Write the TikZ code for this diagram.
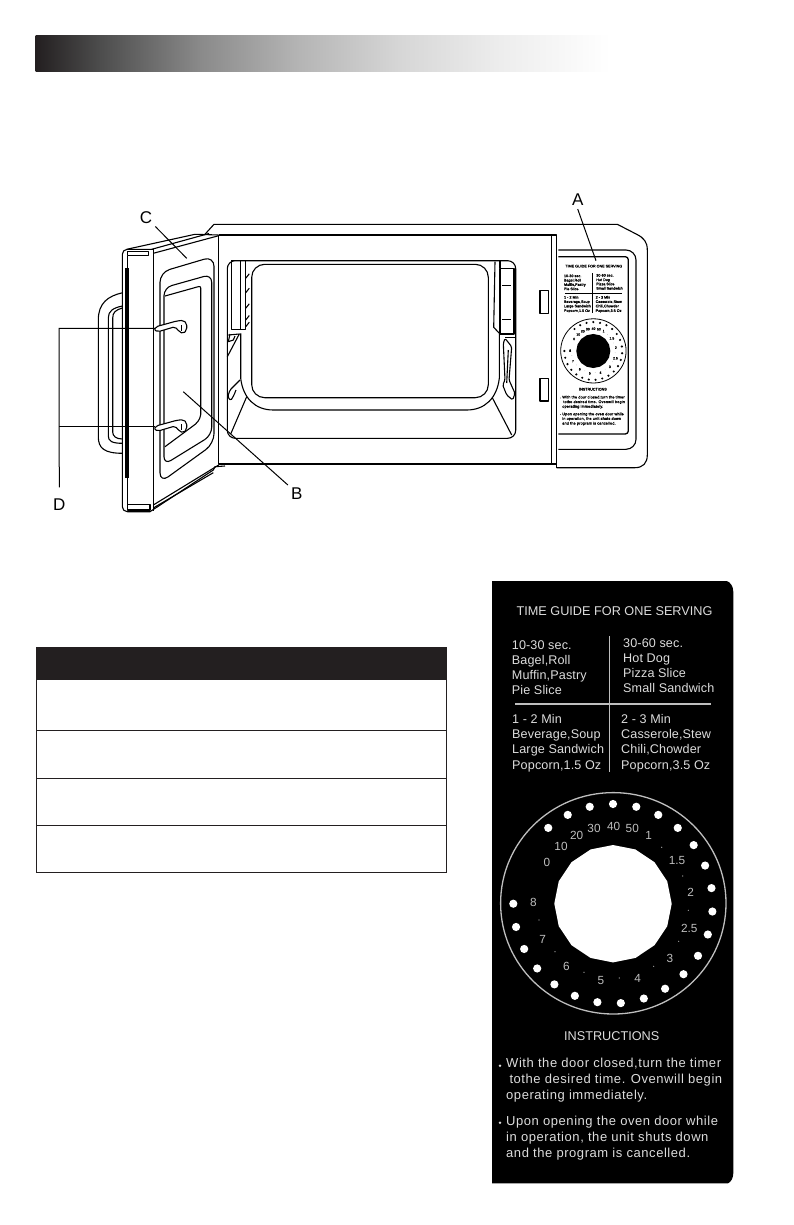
\documentclass[tikz,border=0pt]{standalone}
\usepackage{fontspec}
\setmainfont{Liberation Sans}
\newfontfamily\panelfont[LetterSpace=1]{Liberation Sans}
\newfontfamily\notefont[LetterSpace=4.3]{Liberation Sans}
\usetikzlibrary{positioning,calc}
\definecolor{ink}{HTML}{231F20}
\definecolor{paneltext}{HTML}{DCDCDC}
\definecolor{dialtext}{HTML}{BEBEBE}
\pgfdeclarehorizontalshading{barfade}{100bp}{color(0bp)=(ink); color(25bp)=(ink);
	color(30.6bp)=(black!70); color(39.3bp)=(black!46); color(48bp)=(black!29);
	color(56.7bp)=(black!16); color(65.5bp)=(black!7); color(75bp)=(white); color(100bp)=(white)}
\tikzstyle{part}=[draw, line width=1.1pt, line join=round]
\tikzstyle{leader}=[draw, line width=1pt]
\tikzstyle{callout}=[inner sep=3pt, font=\fontsize{17}{19}\selectfont]
\tikzstyle{guide}=[anchor=base west, inner sep=0pt, font=\panelfont\panelweight\fontsize{12.6}{14}\selectfont]
\tikzstyle{note}=[anchor=base west, inner sep=0pt, font=\notefont\panelweight\fontsize{13}{15}\selectfont]
\tikzstyle{heading}=[anchor=base, inner sep=0pt, font=\panelweight\fontsize{12.7}{14}\selectfont]
\tikzstyle{dialnum}=[inner sep=0pt, font=\panelweight\fontsize{11.8}{13}\selectfont]
\newcommand{\panelweight}{}
% #1 text, #2 dial numbers and rules, #3 solid marks, #4 rule width
\newcommand{\timerPanel}[4]{%
	\path (614.5,615.5) node (title) [heading, text=#1] {TIME GUIDE FOR ONE SERVING};
	\foreach \tx/\ty/\tline [count=\n] in {
		511.7/649/{10-30 sec.}, 511.7/664/{Bagel,Roll}, 511.7/679/{Muffin,Pastry}, 511.7/694/{Pie Slice},
		623/647/{30-60 sec.}, 623/662.5/{Hot Dog}, 623/677/{Pizza Slice}, 623/692/{Small Sandwich},
		512/723/{1 - 2 Min}, 512/738/{Beverage,Soup}, 512/753/{Large Sandwich}, 512/769/{Popcorn,1.5 Oz},
		621/723/{2 - 3 Min}, 621/738/{Casserole,Stew}, 621/753/{Chili,Chowder}, 621/769/{Popcorn,3.5 Oz}}
		\path (\tx,\ty) node (g\n) [guide, text=#1] {\tline};
	\path[draw=#2, line width=#4] (609.3,636) -- (609.3,772);
	\path[draw=#2, line width=#4] (515,704) -- (711,704);
	% Dial
	\path[draw=#2, line width=#4] (613.3,903.3) ellipse (112.7 and 110.7);
	\path[fill=#3] (613,903.7) ++(90:58.7)
		\foreach \k in {1,...,15} { -- ($(613,903.7)+({90+22.5*\k}:58.7)$) } -- cycle;
	\foreach \k in {-3,...,20}
		\path[fill=#3] (613,903.7) ++({13.5*\k-90}:99.7) circle (4.1);
	\foreach \nx/\ny/\num [count=\n] in {
		613.7/826.7/40, 632.3/828.7/50, 648.7/835/1, 677/860/1.5, 690.7/892/2, 689.3/928.7/2.5,
		670/958.3/3, 637.7/978.3/4, 601/980.7/5, 566.3/966.7/6, 542.7/939/7, 533.3/902.7/8,
		547/862.3/0, 561/846.7/10, 576.7/835.7/20, 594/828.3/30}
		\path (\nx,\ny) node (n\n) [dialnum, text=#2] {\num};
	\foreach \dx/\dy in {661.7/847.3, 682.7/876, 688.3/910.3, 678.7/941.3, 653.7/966.3,
		619.3/978, 584/972.3, 555/951.7, 539/920}
		\path[fill=#2] (\dx,\dy) circle (0.6);
	% Instructions
	\path (611.7,1040) node (how) [heading, text=#1] {INSTRUCTIONS};
	\foreach \tx/\ty/\tline [count=\n] in {
		506/1067.3/{With the door closed,turn the timer}, 509.3/1083.3/{tothe desired time. Ovenwill begin},
		506/1099.3/{operating immediately.}, 506/1125.3/{Upon opening the oven door while},
		506/1141.3/{in operation, the unit shuts down}, 506/1157.3/{and the program is cancelled.}}
		\path (\tx,\ty) node (t\n) [note, text=#1] {\tline};
	\path[fill=#1] (500,1065.7) circle (1.3) (500,1122.7) circle (1.3);
}

\begin{document}
\begin{tikzpicture}[x=1pt,y=-1pt]
	\useasboundingbox (0,0) rectangle (793,1225);

	% Title bar and table
	\path[shading=barfade] (35.5,36) rectangle (610,72);
	\path[fill=ink] (36,647) rectangle (447,679);
	\path[draw=ink, line width=1pt] (36.5,679) rectangle (446.5,872.3);
	\foreach \rowy in {730.3,778.3,825.3}
		\path[draw=ink, line width=1pt] (36.5,\rowy) -- (446.5,\rowy);

	% Oven body
	\path[part] (204.3,235) -- (214,224.3) -- (617.3,224.3) -- (636.7,234.3)
		.. controls (644,238) and (647.3,242) .. (647.3,250) -- (647.3,455)
		.. controls (647.3,463) and (643,467.7) .. (635,467.7) -- (556.7,467.7);
	\path[part] (218.7,235) -- (556.7,235) -- (556.7,467.7);
	\path[part] (218.7,235) -- (218.7,464) -- (556.7,464);
	\path[part] (551.7,236) -- (551.7,465);
	\path[part, rounded corners=10pt] (558.3,250) -- (636,250) -- (636,449.3) -- (558.3,449.3);
	\path[part, line width=1.3pt, rounded corners=3pt] (558.3,256.7) -- (628.3,256.7) -- (628.3,434) -- (558.3,434);
	\path[part] (540,290.7) rectangle (548.7,313.3);
	\path[part] (540,378.3) rectangle (548.7,401);

	% Cavity
	\path[part, rounded corners=8pt] (227.3,260.7) rectangle (515.7,438.3);
	\path[part, rounded corners=13pt] (251.7,264.3) rectangle (488.3,397.7);
	\path[part] (240.7,333.3) -- (240.7,378.3) .. controls (243,398) and (255,410) .. (273.3,410)
		-- (466.7,410) .. controls (485,410) and (497,398) .. (499.3,378.3) -- (499.3,333.3);
	\path[part] (246.7,396.7) -- (230.7,434);
	\path[part] (492.3,397.7) -- (511.7,435);

	% Left rail
	\path[part] (231.7,260.7) rectangle (245.7,329.3);
	\path[part] (240.7,260.7) -- (240.7,329.3);
	\foreach \ty in {278.3,292.7,308.3,320,326.7}
		\path[part] (245.7,\ty) -- (249.3,\ty-4.5);
	\path[part] (228.3,335) -- (239.3,334) -- (227.3,356.7);
	\path[part] (230,334) -- (228.3,341.7) -- (233.3,340) -- (235,336);
	\path[part, rounded corners=1.5pt] (240,380) -- (230,390) -- (227.7,396.7) -- (230.7,400.7) -- (234,395) -- (236,390);

	% Right rail
	\path[part] (500,268.3) rectangle (514,334);
	\path[part] (500,260.7) -- (500,268.3);
	\path[part] (502,285.3) -- (511,285.3);
	\path[part] (502,319.3) -- (511,319.3);
	\path[part] (495,261.7) -- (493.7,327.3) -- (500,334);
	\path[part] (505,337.3) -- (515.7,337.3);
	\path[part, rounded corners=1.5pt] (505,338.3) -- (511.7,346.7) -- (509,380) -- (515,393.3) -- (512.7,400)
		-- (506.7,395) -- (502.7,385) -- (505,380) -- (503.3,343.3) -- cycle;
	\path[part] (508.3,350) -- (506.7,383);

	% Door handle
	\path[part] (122.7,292.7) .. controls (108,296) and (98.3,303) .. (98.3,320) -- (98.3,436.7)
		.. controls (98.3,448) and (104,453.3) .. (122.7,453.3);
	\path[part] (122.3,306) .. controls (113,308) and (108.3,311) .. (108.3,318) -- (108.3,436)
		.. controls (108.3,441) and (112,443.3) .. (122.3,443.3);
	\path[part] (122.3,308) .. controls (116,310) and (112.7,312) .. (112.7,318) -- (112.7,432)
		.. controls (112.7,436) and (116,439) .. (122.3,439);

	% Door
	\path[part, rounded corners=5pt] (153.3,249.3) -- (122.3,249.3) -- (122.3,511.7) -- (150,511.7);
	\path[part] (126.7,249.3) -- (195,234.3) -- (218.7,235);
	\path[part] (151.7,249.3) -- (209,233.5);
	\path[part] (153.3,253.3) -- (218.7,235.7);
	\path[part] (153.3,249.3) -- (153.3,511);
	\path[part] (127.3,255.7) -- (127.3,504.3);
	\path[part] (127.3,251.7) rectangle (148.3,255.7);
	\path[part] (127.3,504.3) rectangle (150,510);
	\path[draw, line width=3.5pt] (127,268.3) -- (127,478.3);
	\path[part] (150,511.7) -- (213.3,470) -- (215,466.7) -- (225,466);
	\path[part] (153.3,505) -- (218.7,465);
	\path[part] (153.3,508) -- (213.3,472.7);

	% Door gaskets
	\path[part, rounded corners=10pt] (160,272.3) -- (214,256.3) -- (214,443.7) -- (160,482.7) -- cycle;
	\path[part, rounded corners=8pt] (164,287.7) -- (211.7,274.3) -- (211.7,435.3) -- (164,464.7) -- cycle;
	\path[part, rounded corners=2pt] (165,296) -- (200.7,286) -- (200.7,416.7) -- (197,423) -- (165,446.7);

	% Door hooks
	\foreach \hy in {0,99.3} {
		\path[part, fill=white, rounded corners=2pt] (156,326.7+\hy) -- (176.7,321+\hy) -- (183.3,320.3+\hy)
			-- (186.7,323.3+\hy) -- (186.7,330+\hy) -- (183.3,333.7+\hy) -- (179.3,331.7+\hy)
			-- (175,326.7+\hy) -- (158.3,331.7+\hy) -- (154,330+\hy) -- cycle;
		\path[part] (181.7,325+\hy) -- (181.7,330.7+\hy);
	}

	% Small panel on the oven
	\begin{scope}[shift={(593.3,351)},scale=.29,shift={(-613,-903.7)},transform shape,name prefix=mini-]
		\renewcommand{\panelweight}{\addfontfeature{FakeBold=1.5}}
		\timerPanel{black}{black}{black}{0.8pt}
	\end{scope}

	% Black panel
	\path[fill=black] (492,581) -- (726.7,581) .. controls (730,582) and (733.3,586) .. (733.3,591.7)
		-- (733.3,1173) .. controls (733.3,1178) and (731,1182) .. (728,1183.3) -- (492,1183.3) -- cycle;
	\timerPanel{paneltext}{dialtext}{white}{1.3pt}

	% Callouts
	\path (577.7,200) node (labA) [callout] {A};
	\path (296.7,494) node (labB) [callout] {B};
	\path (146,217.3) node (labC) [callout] {C};
	\path (59.3,504.3) node (labD) [callout] {D};
	\coordinate (tipA) at (596,260.7);
	\coordinate (tipB) at (183.3,391.7);
	\coordinate (tipC) at (186.7,258.3);
	\coordinate (hookA) at (155,328.3);
	\coordinate (hookB) at (155,426.7);
	\coordinate (dTop) at (59,328.3);
	\coordinate (dLow) at (59,426.7);

	% Draw leaders between elements
	\path [leader] (labA.south) -- (tipA);
	\path [leader] (labB.north west) -- (tipB);
	\path [leader] (labC.south east) -- (tipC);
	\path [leader, shorten <=8pt] (labD.north) -- (dTop) -- (hookA);
	\path [leader, line width=1.4pt] (dLow) -- (hookB);
\end{tikzpicture}
\end{document}
